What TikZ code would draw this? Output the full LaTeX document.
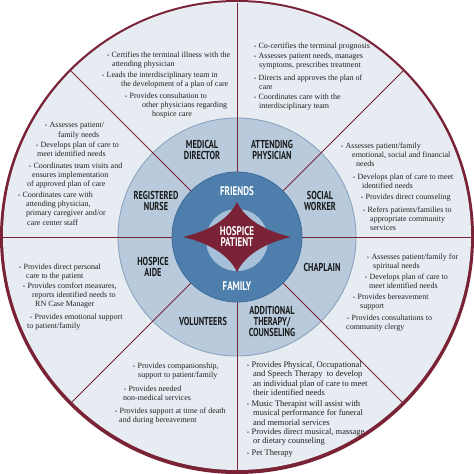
\documentclass[tikz,border=0pt]{standalone}
\usepackage{fontspec}
\setmainfont{Liberation Serif}
\newfontfamily\rolefont[FakeStretch=0.72]{PT Sans}
\definecolor{maroon}{HTML}{7A2336}
\definecolor{ringout}{HTML}{E7ECF2}
\definecolor{ringmid}{HTML}{B8CADC}
\definecolor{ringedge}{HTML}{8AA3BE}
\definecolor{coreblue}{HTML}{4E7FAC}
\definecolor{coreedge}{HTML}{3E6C98}
\definecolor{corelight}{HTML}{A6C0DA}
\definecolor{notegrey}{HTML}{222222}
\definecolor{rolegrey}{HTML}{1A1A1A}
\tikzset{
  divider/.style={draw=maroon, line width=0.8pt},
  note/.style={anchor=north west, inner sep=0pt, align=left, text=notegrey,
    font=\fontsize{8}{9.3}\selectfont},
  bignote/.style={note, font=\fontsize{8.5}{9.3}\selectfont},
  role/.style={align=center, inner sep=0pt, text=rolegrey,
    font=\rolefont\bfseries\fontsize{11.5}{11}\selectfont},
  core/.style={role, text=white, font=\rolefont\bfseries\fontsize{12.5}{11}\selectfont}
}
\newcommand{\bul}{{\fontsize{5.5}{5}\selectfont\textbullet}\hspace{2.5pt}}

\begin{document}
\begin{tikzpicture}[x=1pt, y=-1pt]
  \useasboundingbox (0,0) rectangle (474,474);
  \fill[white] (0,0) rectangle (474,474);

  % rings, the rim is thicker at the bottom
  \fill[maroon] (237,237) circle[radius=237pt];
  \fill[ringout] (237,236) circle[radius=234pt];
  \filldraw[fill=ringmid, draw=ringedge, line width=0.9pt]
    (237,237) circle[radius=119pt];

  \begin{scope}[shift={(237,237)}]
    \foreach \a in {0,45,...,315}
      \draw[divider] (\a:65) -- (\a:234.5);
    \filldraw[fill=coreblue, draw=coreedge, line width=0.8pt]
      (0,0) circle[radius=65pt];
    \fill[corelight] (0,3) circle[radius=31pt];
    % four-pointed star
    \fill[maroon] (54,0) .. controls (28,6) and (8,18) .. (0,35)
      .. controls (-8,18) and (-28,6) .. (-54,0)
      .. controls (-28,-6) and (-8,-18) .. (0,-35)
      .. controls (8,-18) and (28,-6) .. (54,0) -- cycle;
  \end{scope}

  % centre labels
  \node[core] (friends) at (237,191) {FRIENDS};
  \node[core] (patient) at (237,237) {HOSPICE\\PATIENT};
  \node[core] (family) at (237,286) {FAMILY};

  % team members
  \node[role] (medical) at (202,150) {MEDICAL\\DIRECTOR};
  \node[role] (attending) at (272,150) {ATTENDING\\PHYSICIAN};
  \node[role] (nurse) at (156,201) {REGISTERED\\NURSE};
  \node[role] (social) at (320,201) {SOCIAL\\WORKER};
  \node[role] (aide) at (153,267) {HOSPICE\\AIDE};
  \node[role] (chaplain) at (322,267) {CHAPLAIN};
  \node[role] (volunteers) at (203,321) {VOLUNTEERS};
  \node[role] (therapy) at (272,321) {ADDITIONAL\\THERAPY/\\COUNSELING};

  % medical director
  \node[note] (md1) at (107,51.5) {\bul Certifies the terminal illness with the\\
    \hspace*{5pt}attending physician};
  \node[note] (md2) at (102,71.5) {\bul Leads the interdisciplinary team in\\
    \hspace*{19pt}the development of a plan of care};
  \node[note] (md3) at (125,92.5) {\bul Provides consultation to\\
    \hspace*{17pt}other physicians regarding\\\hspace*{27pt}hospice care};

  % attending physician
  \node[note] (ap1) at (254,42.5) {\bul Co-certifies the terminal prognosis};
  \node[note] (ap2) at (254,52.5) {\bul Assesses patient needs, manages\\
    \hspace*{5pt}symptoms, prescribes treatment};
  \node[note] (ap3) at (254,74.5) {\bul Directs and approves the plan of\\
    \hspace*{5pt}care};
  \node[note] (ap4) at (254,93.5) {\bul Coordinates care with the\\
    \hspace*{5pt}interdisciplinary team};

  % registered nurse
  \node[note] (rn1) at (45,122.5) {\bul Assesses patient/\\\hspace*{13pt}family needs};
  \node[note] (rn2) at (36,141.5) {\bul Develops plan of care to\\
    \hspace*{1pt}meet identified needs};
  \node[note] (rn3) at (27,162.5) {\hspace*{2pt}\bul Coordinates team visits and\\
    \hspace*{5pt}ensures implementation\\of approved plan of care};
  \node[note] (rn4) at (18,191.5) {\bul Coordinates care with\\
    \hspace*{8pt}attending physician,\\\hspace*{8pt}primary caregiver and/or\\
    \hspace*{9pt}care center staff};

  % social worker
  \node[note] (sw1) at (341,142.5) {\bul Assesses patient/family\\
    \hspace*{11pt}emotional, social and financial\\\hspace*{15pt}needs};
  \node[note] (sw2) at (353,173.5) {\bul Develops plan of care to meet\\
    \hspace*{9pt}identified needs};
  \node[note] (sw3) at (361,193.5) {\bul Provides direct counseling};
  \node[note] (sw4) at (363,206.5) {\bul Refers patients/families to\\
    \hspace*{7pt}appropriate community\\\hspace*{7pt}services};

  % hospice aide
  \node[note] (ha1) at (19,263.5) {\bul Provides direct personal\\
    \hspace*{7pt}care to the patient};
  \node[note] (ha2) at (23,282.5) {\bul Provides comfort measures,\\
    \hspace*{9pt}reports identified needs to\\\hspace*{12pt}RN Case Manager};
  \node[note] (ha3) at (27,313.5) {\hspace*{3pt}\bul Provides emotional support\\
    to patient/family};

  % chaplain
  \node[note] (ch1) at (367,253.5) {\bul Assesses patient/family for\\
    \hspace*{6pt}spiritual needs};
  \node[note] (ch2) at (365,273.5) {\bul Develops plan of care to\\
    \hspace*{4pt}meet identified needs};
  \node[note] (ch3) at (353,293.5) {\bul Provides bereavement\\\hspace*{7pt}support};
  \node[note] (ch4) at (346,314.5) {\hspace*{1pt}\bul Provides consultations to\\
    community clergy};

  % volunteers
  \node[note] (vo1) at (133,362.5) {\bul Provides companionship,\\
    \hspace*{5pt}support to patient/family};
  \node[note] (vo2) at (123,385.5) {\hspace*{1pt}\bul Provides needed\\
    non-medical services};
  \node[note] (vo3) at (115,407.5) {\bul Provides support at time of death\\
    \hspace*{4pt}and during bereavement};

  % additional therapy
  \node[bignote] (at1) at (247,361.5) {\bul Provides Physical, Occupational\\
    \hspace*{6pt}and Speech Therapy~ to develop\\
    \hspace*{6pt}an individual plan of care to meet\\
    \hspace*{6pt}their identified needs};
  \node[bignote] (at2) at (247,400.5) {\bul Music Therapist will assist with\\
    \hspace*{6pt}musical performance for funeral\\\hspace*{6pt}and memorial services};
  \node[bignote] (at3) at (247,428.5) {\bul Provides direct musical, massage\\
    \hspace*{6pt}or dietary counseling};
  \node[bignote] (at4) at (247,449.5) {\bul Pet Therapy};
\end{tikzpicture}
\end{document}
